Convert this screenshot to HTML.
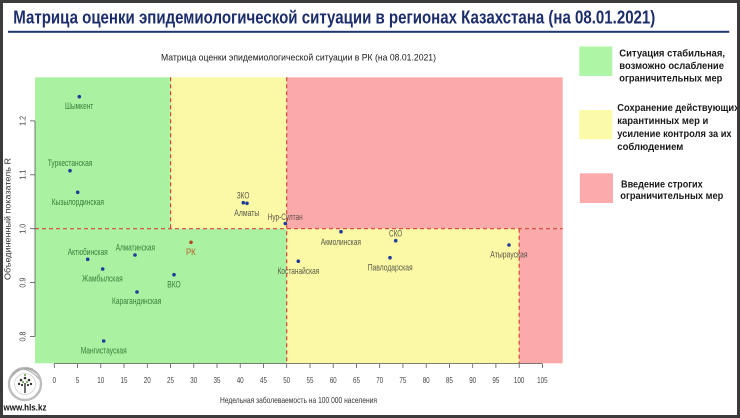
<!DOCTYPE html>
<html>
<head>
<meta charset="utf-8">
<style>
html,body{margin:0;padding:0;width:740px;height:418px;overflow:hidden;background:#3b3b3b}
svg{display:block}
.n{font-family:"Liberation Sans Narrow","Liberation Sans",sans-serif}
.b{font-family:"Liberation Sans",sans-serif;font-weight:bold}
</style>
</head>
<body>
<svg width="740" height="418" viewBox="0 0 740 418" xmlns="http://www.w3.org/2000/svg">
  <!-- frame -->
  <rect x="0" y="0" width="740" height="418" fill="#3b3b3b"/>
  <rect x="3" y="3" width="734" height="412" fill="#ffffff"/>

  <!-- main title -->
  <text class="n" x="13.3" y="23.6" font-size="18" font-weight="bold" fill="#1c2d6b" textLength="642" lengthAdjust="spacingAndGlyphs">Матрица оценки эпидемиологической ситуации в регионах Казахстана (на 08.01.2021)</text>
  <rect x="8" y="30.8" width="721.3" height="2" fill="#22356f"/>

  <!-- subtitle -->
  <text class="n" x="161" y="60.7" font-size="9.5" fill="#1a1a1a" textLength="275" lengthAdjust="spacingAndGlyphs">Матрица оценки эпидемиологической ситуации в РК (на 08.01.2021)</text>

  <!-- regions -->
  <rect x="35" y="77.3" width="135.6" height="151.4" fill="#aaf2a2"/>
  <rect x="170.6" y="77.3" width="116.1" height="151.4" fill="#fbf9a6"/>
  <rect x="286.7" y="77.3" width="276" height="151.4" fill="#fbaaaa"/>
  <rect x="35" y="228.7" width="251.7" height="134.6" fill="#aaf2a2"/>
  <rect x="286.7" y="228.7" width="232.5" height="134.6" fill="#fbf9a6"/>
  <rect x="519.2" y="228.7" width="43.5" height="134.6" fill="#fbaaaa"/>

  <!-- dashed lines -->
  <g stroke="#d8453a" stroke-width="1.2" stroke-dasharray="4 3" fill="none">
    <line x1="170.6" y1="77.3" x2="170.6" y2="228.7"/>
    <line x1="286.7" y1="77.3" x2="286.7" y2="363.3"/>
    <line x1="519.2" y1="228.7" x2="519.2" y2="363.3"/>
    <line x1="35" y1="228.7" x2="562.7" y2="228.7"/>
  </g>

  <!-- axes -->
  <g stroke="#555" stroke-width="0.8" fill="none">
    <line x1="54.3" y1="363.6" x2="542.4" y2="363.6"/>
    <line x1="54.3" y1="363.6" x2="54.3" y2="368"/>
    <line x1="77.5" y1="363.6" x2="77.5" y2="368"/>
    <line x1="100.8" y1="363.6" x2="100.8" y2="368"/>
    <line x1="124.0" y1="363.6" x2="124.0" y2="368"/>
    <line x1="147.3" y1="363.6" x2="147.3" y2="368"/>
    <line x1="170.5" y1="363.6" x2="170.5" y2="368"/>
    <line x1="193.8" y1="363.6" x2="193.8" y2="368"/>
    <line x1="217.0" y1="363.6" x2="217.0" y2="368"/>
    <line x1="240.2" y1="363.6" x2="240.2" y2="368"/>
    <line x1="263.5" y1="363.6" x2="263.5" y2="368"/>
    <line x1="286.7" y1="363.6" x2="286.7" y2="368"/>
    <line x1="310.0" y1="363.6" x2="310.0" y2="368"/>
    <line x1="333.2" y1="363.6" x2="333.2" y2="368"/>
    <line x1="356.5" y1="363.6" x2="356.5" y2="368"/>
    <line x1="379.7" y1="363.6" x2="379.7" y2="368"/>
    <line x1="402.9" y1="363.6" x2="402.9" y2="368"/>
    <line x1="426.2" y1="363.6" x2="426.2" y2="368"/>
    <line x1="449.4" y1="363.6" x2="449.4" y2="368"/>
    <line x1="472.7" y1="363.6" x2="472.7" y2="368"/>
    <line x1="495.9" y1="363.6" x2="495.9" y2="368"/>
    <line x1="519.2" y1="363.6" x2="519.2" y2="368"/>
    <line x1="542.4" y1="363.6" x2="542.4" y2="368"/>
    <line x1="35" y1="120.9" x2="35" y2="336.5"/>
    <line x1="30" y1="120.9" x2="35" y2="120.9"/>
    <line x1="30" y1="174.8" x2="35" y2="174.8"/>
    <line x1="30" y1="228.7" x2="35" y2="228.7"/>
    <line x1="30" y1="282.6" x2="35" y2="282.6"/>
    <line x1="30" y1="336.5" x2="35" y2="336.5"/>
  </g>

  <!-- x tick labels -->
  <g class="n" font-size="8.5" fill="#444">
    <text x="52.5" y="383" textLength="3.6" lengthAdjust="spacingAndGlyphs">0</text>
    <text x="75.7" y="383" textLength="3.6" lengthAdjust="spacingAndGlyphs">5</text>
    <text x="97.3" y="383" textLength="7" lengthAdjust="spacingAndGlyphs">10</text>
    <text x="120.5" y="383" textLength="7" lengthAdjust="spacingAndGlyphs">15</text>
    <text x="143.8" y="383" textLength="7" lengthAdjust="spacingAndGlyphs">20</text>
    <text x="167.0" y="383" textLength="7" lengthAdjust="spacingAndGlyphs">25</text>
    <text x="190.3" y="383" textLength="7" lengthAdjust="spacingAndGlyphs">30</text>
    <text x="213.5" y="383" textLength="7" lengthAdjust="spacingAndGlyphs">35</text>
    <text x="236.7" y="383" textLength="7" lengthAdjust="spacingAndGlyphs">40</text>
    <text x="260.0" y="383" textLength="7" lengthAdjust="spacingAndGlyphs">45</text>
    <text x="283.2" y="383" textLength="7" lengthAdjust="spacingAndGlyphs">50</text>
    <text x="306.5" y="383" textLength="7" lengthAdjust="spacingAndGlyphs">55</text>
    <text x="329.7" y="383" textLength="7" lengthAdjust="spacingAndGlyphs">60</text>
    <text x="353.0" y="383" textLength="7" lengthAdjust="spacingAndGlyphs">65</text>
    <text x="376.2" y="383" textLength="7" lengthAdjust="spacingAndGlyphs">70</text>
    <text x="399.4" y="383" textLength="7" lengthAdjust="spacingAndGlyphs">75</text>
    <text x="422.7" y="383" textLength="7" lengthAdjust="spacingAndGlyphs">80</text>
    <text x="445.9" y="383" textLength="7" lengthAdjust="spacingAndGlyphs">85</text>
    <text x="469.2" y="383" textLength="7" lengthAdjust="spacingAndGlyphs">90</text>
    <text x="492.4" y="383" textLength="7" lengthAdjust="spacingAndGlyphs">95</text>
    <text x="513.9" y="383" textLength="10.5" lengthAdjust="spacingAndGlyphs">100</text>
    <text x="537.1" y="383" textLength="10.5" lengthAdjust="spacingAndGlyphs">105</text>
  </g>

  <!-- y tick labels -->
  <g class="n" font-size="8.5" fill="#444">
    <text transform="translate(25.7,125.9) rotate(-90)" x="0" y="0" textLength="10" lengthAdjust="spacingAndGlyphs">1.2</text>
    <text transform="translate(25.7,179.8) rotate(-90)" x="0" y="0" textLength="10" lengthAdjust="spacingAndGlyphs">1.1</text>
    <text transform="translate(25.7,233.7) rotate(-90)" x="0" y="0" textLength="10" lengthAdjust="spacingAndGlyphs">1.0</text>
    <text transform="translate(25.7,287.6) rotate(-90)" x="0" y="0" textLength="10" lengthAdjust="spacingAndGlyphs">0.9</text>
    <text transform="translate(25.7,341.5) rotate(-90)" x="0" y="0" textLength="10" lengthAdjust="spacingAndGlyphs">0.8</text>
  </g>

  <!-- axis titles -->
  <text class="n" x="220" y="403" font-size="8.5" fill="#333" textLength="157" lengthAdjust="spacingAndGlyphs">Недельная заболеваемость на 100 000 населения</text>
  <text class="n" transform="translate(10.3,280) rotate(-90)" x="0" y="0" font-size="8.5" fill="#333" textLength="122" lengthAdjust="spacingAndGlyphs">Объединенный показатель R</text>

  <!-- points -->
  <g fill="#1f3c9a">
    <circle cx="79.3" cy="96.7" r="1.8"/>
    <circle cx="70" cy="170.7" r="1.8"/>
    <circle cx="77.7" cy="192.3" r="1.8"/>
    <circle cx="243.3" cy="202.7" r="1.8"/>
    <circle cx="247" cy="203.3" r="1.8"/>
    <circle cx="285.3" cy="223.5" r="1.8"/>
    <circle cx="87.7" cy="259.3" r="1.8"/>
    <circle cx="135" cy="255" r="1.8"/>
    <circle cx="102.7" cy="269" r="1.8"/>
    <circle cx="174" cy="274.7" r="1.8"/>
    <circle cx="137" cy="292" r="1.8"/>
    <circle cx="103.7" cy="341" r="1.8"/>
    <circle cx="298.3" cy="261.2" r="1.8"/>
    <circle cx="341" cy="231.7" r="1.8"/>
    <circle cx="395.7" cy="240.7" r="1.8"/>
    <circle cx="390" cy="257.7" r="1.8"/>
    <circle cx="509" cy="245" r="1.8"/>
  </g>
  <circle cx="191" cy="242.3" r="1.8" fill="#b04a20"/>

  <!-- point labels -->
  <g class="n" font-size="9">
    <text x="65" y="109" fill="#3a7d3a" textLength="28.3" lengthAdjust="spacingAndGlyphs">Шымкент</text>
    <text x="47.7" y="166" fill="#3a7d3a" textLength="44.7" lengthAdjust="spacingAndGlyphs">Туркестанская</text>
    <text x="51.7" y="205" fill="#3a7d3a" textLength="52.3" lengthAdjust="spacingAndGlyphs">Кызылординская</text>
    <text x="236.7" y="198.3" fill="#5b5b48" textLength="12.7" lengthAdjust="spacingAndGlyphs">ЗКО</text>
    <text x="234.3" y="216" fill="#5b5b48" textLength="25" lengthAdjust="spacingAndGlyphs">Алматы</text>
    <text x="267.7" y="220" fill="#5e4e48" textLength="35" lengthAdjust="spacingAndGlyphs">Нур-Султан</text>
    <text x="67.7" y="255" fill="#3a7d3a" textLength="40" lengthAdjust="spacingAndGlyphs">Актюбинская</text>
    <text x="115.7" y="250.3" fill="#3a7d3a" textLength="39.3" lengthAdjust="spacingAndGlyphs">Алматинская</text>
    <text x="186" y="255" fill="#b5602a" textLength="9.7" lengthAdjust="spacingAndGlyphs">РК</text>
    <text x="82" y="281.6" fill="#3a7d3a" textLength="40.7" lengthAdjust="spacingAndGlyphs">Жамбылская</text>
    <text x="167.3" y="287.3" fill="#3a7d3a" textLength="13.3" lengthAdjust="spacingAndGlyphs">ВКО</text>
    <text x="112" y="304" fill="#3a7d3a" textLength="49.3" lengthAdjust="spacingAndGlyphs">Карагандинская</text>
    <text x="80.7" y="353.3" fill="#3a7d3a" textLength="46" lengthAdjust="spacingAndGlyphs">Мангистауская</text>
    <text x="277.6" y="274" fill="#5b5b48" textLength="41.7" lengthAdjust="spacingAndGlyphs">Костанайская</text>
    <text x="320.7" y="245" fill="#5b5b48" textLength="40.3" lengthAdjust="spacingAndGlyphs">Акмолинская</text>
    <text x="389" y="236.6" fill="#5b5b48" textLength="13.3" lengthAdjust="spacingAndGlyphs">СКО</text>
    <text x="367.7" y="270.3" fill="#5b5b48" textLength="45" lengthAdjust="spacingAndGlyphs">Павлодарская</text>
    <text x="490.3" y="257.6" fill="#5e5048" textLength="37.3" lengthAdjust="spacingAndGlyphs">Атырауская</text>
  </g>

  <!-- legend -->
  <rect x="579.3" y="46.5" width="33" height="29.5" fill="#aef5a6"/>
  <rect x="579.3" y="110" width="33" height="29.3" fill="#fbfaa8"/>
  <rect x="579.8" y="173.3" width="33.2" height="29.7" fill="#fbabab"/>
  <g class="b" font-size="10.5" fill="#1a1a1a">
    <text x="619.3" y="56.6" textLength="105.7" lengthAdjust="spacingAndGlyphs">Ситуация стабильная,</text>
    <text x="619.3" y="69" textLength="104.7" lengthAdjust="spacingAndGlyphs">возможно ослабление</text>
    <text x="619.3" y="81.5" textLength="103" lengthAdjust="spacingAndGlyphs">ограничительных мер</text>
    <text x="617.3" y="111" textLength="122" lengthAdjust="spacingAndGlyphs">Сохранение действующих</text>
    <text x="617.3" y="124" textLength="91" lengthAdjust="spacingAndGlyphs">карантинных мер и</text>
    <text x="617.3" y="137.2" textLength="114.3" lengthAdjust="spacingAndGlyphs">усиление контроля за их</text>
    <text x="617.3" y="150" textLength="66" lengthAdjust="spacingAndGlyphs">соблюдением</text>
    <text x="621" y="187.3" textLength="81.7" lengthAdjust="spacingAndGlyphs">Введение строгих</text>
    <text x="620.3" y="199" textLength="103" lengthAdjust="spacingAndGlyphs">ограничительных мер</text>
  </g>
  <!-- re-draw right frame edge over overflowing legend text -->
  <rect x="737" y="0" width="3" height="418" fill="#3b3b3b"/>

  <!-- logo -->
  <g transform="translate(25,384)">
    <circle r="16" fill="none" stroke="#bdbdbd" stroke-width="2.4"/>
    <path d="M-14,-6 Q-6,-18 8,-15 M-12,-10 Q-2,-20 12,-11 M-9,-13 Q2,-19 14,-5" stroke="#a8a8a8" stroke-width="1" fill="none"/>
    <circle r="10.5" fill="#fff" stroke="#d0d0d0" stroke-width="0.8"/>
    <line x1="0" y1="9" x2="0" y2="-1" stroke="#333" stroke-width="1.4"/>
    <g fill="#333">
      <circle cx="-4" cy="-4" r="1.3"/>
      <circle cx="0" cy="-6" r="1.3"/>
      <circle cx="4" cy="-4" r="1.3"/>
      <circle cx="-6" cy="0" r="1.2"/>
      <circle cx="6" cy="0" r="1.2"/>
      <circle cx="-3" cy="1" r="1.1"/>
      <circle cx="3" cy="1" r="1.1"/>
    </g>
    <g fill="#5a9a3a">
      <circle cx="-2" cy="-2" r="1"/>
      <circle cx="2" cy="-2" r="1"/>
      <circle cx="0" cy="-9" r="1"/>
    </g>
  </g>
  <text class="b" x="3.5" y="410.6" font-size="9" fill="#111" textLength="43" lengthAdjust="spacingAndGlyphs">www.hls.kz</text>
</svg>
</body>
</html>
